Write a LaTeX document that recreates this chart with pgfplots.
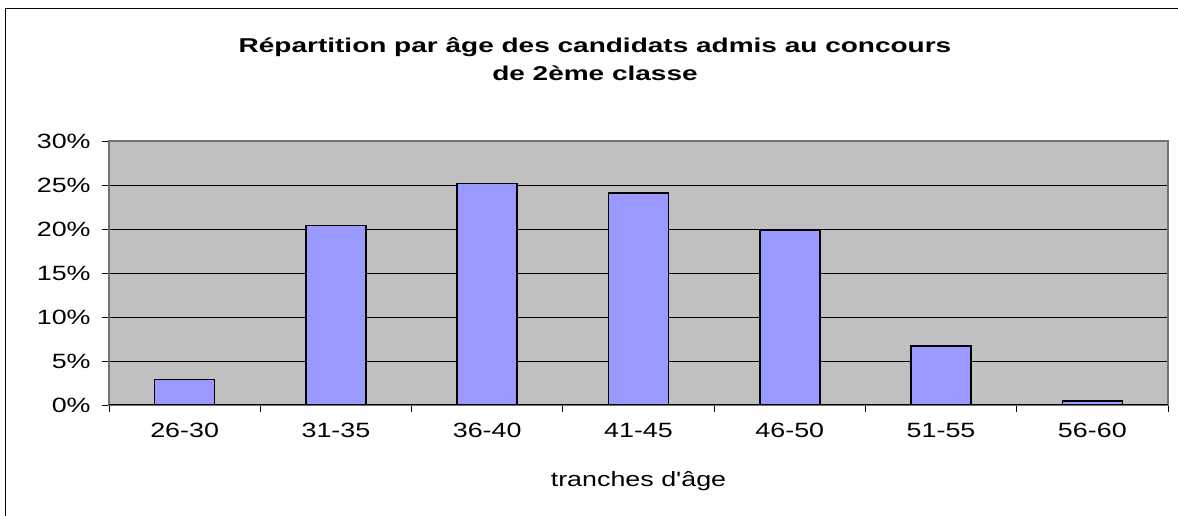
\documentclass[border=0pt]{standalone}
\usepackage{fontspec}
\setmainfont{Liberation Sans}
\newfontfamily\chartfont[FakeStretch=1.3]{Liberation Sans}
\newfontfamily\titlefont[FakeStretch=1.4]{Liberation Sans}
\usepackage{pgfplots}
\pgfplotsset{compat=1.18}
\definecolor{plotbg}{HTML}{C0C0C0}
\definecolor{barfill}{HTML}{9999FF}
\begin{document}
\begin{tikzpicture}[x=0.75pt,y=0.75pt]
\useasboundingbox (0,0) rectangle (1178,516);
% outer frame (only top and left edges are visible)
\draw[line width=0.75pt] (5,0) -- (5,507) -- (1178,507);
\node[font=\titlefont\bfseries\fontsize{15}{21}\selectfont, align=center] at (595,457)
  {Répartition par âge des candidats admis au concours\\de 2ème classe};
\begin{axis}[
  at={(81.75pt,83.25pt)}, anchor=south west,
  scale only axis,
  width=794.25pt, height=198pt,
  axis background/.style={fill=plotbg},
  axis line style={draw=gray!90!black, line width=0.9pt},
  xmin=0.5, xmax=7.5,
  ymin=0, ymax=30,
  xtick={1,...,7},
  xticklabels={26-30,31-35,36-40,41-45,46-50,51-55,56-60},
  minor xtick={0.5,1.5,...,7.5},
  ytick={0,5,...,30},
  yticklabels={0\%,5\%,10\%,15\%,20\%,25\%,30\%},
  xtick pos=bottom, ytick pos=left,
  tick align=outside,
  major tick length=5.25pt,
  minor tick length=5.25pt,
  major x tick style={draw=none},
  minor x tick style={black, line width=0.6pt},
  y tick style={black, line width=0.6pt},
  ymajorgrids,
  grid style={black, line width=0.6pt},
  tick label style={font=\chartfont\fontsize{15.5}{18}\selectfont},
  xticklabel style={yshift=-5pt},
  yticklabel style={xshift=-5pt},
  xlabel={tranches d'âge},
  xlabel style={font=\chartfont\fontsize{15.5}{18}\selectfont, yshift=-18pt},
  ybar, bar width=45pt,
]
\addplot[fill=barfill, draw=black, line width=1.1pt] coordinates {
  (1,2.9) (2,20.4) (3,25.2) (4,24.1) (5,19.8) (6,6.7) (7,0.45)
};
\draw[black, line width=0.9pt] (rel axis cs:0,0) -- (rel axis cs:1,0);
\end{axis}
\end{tikzpicture}
\end{document}
